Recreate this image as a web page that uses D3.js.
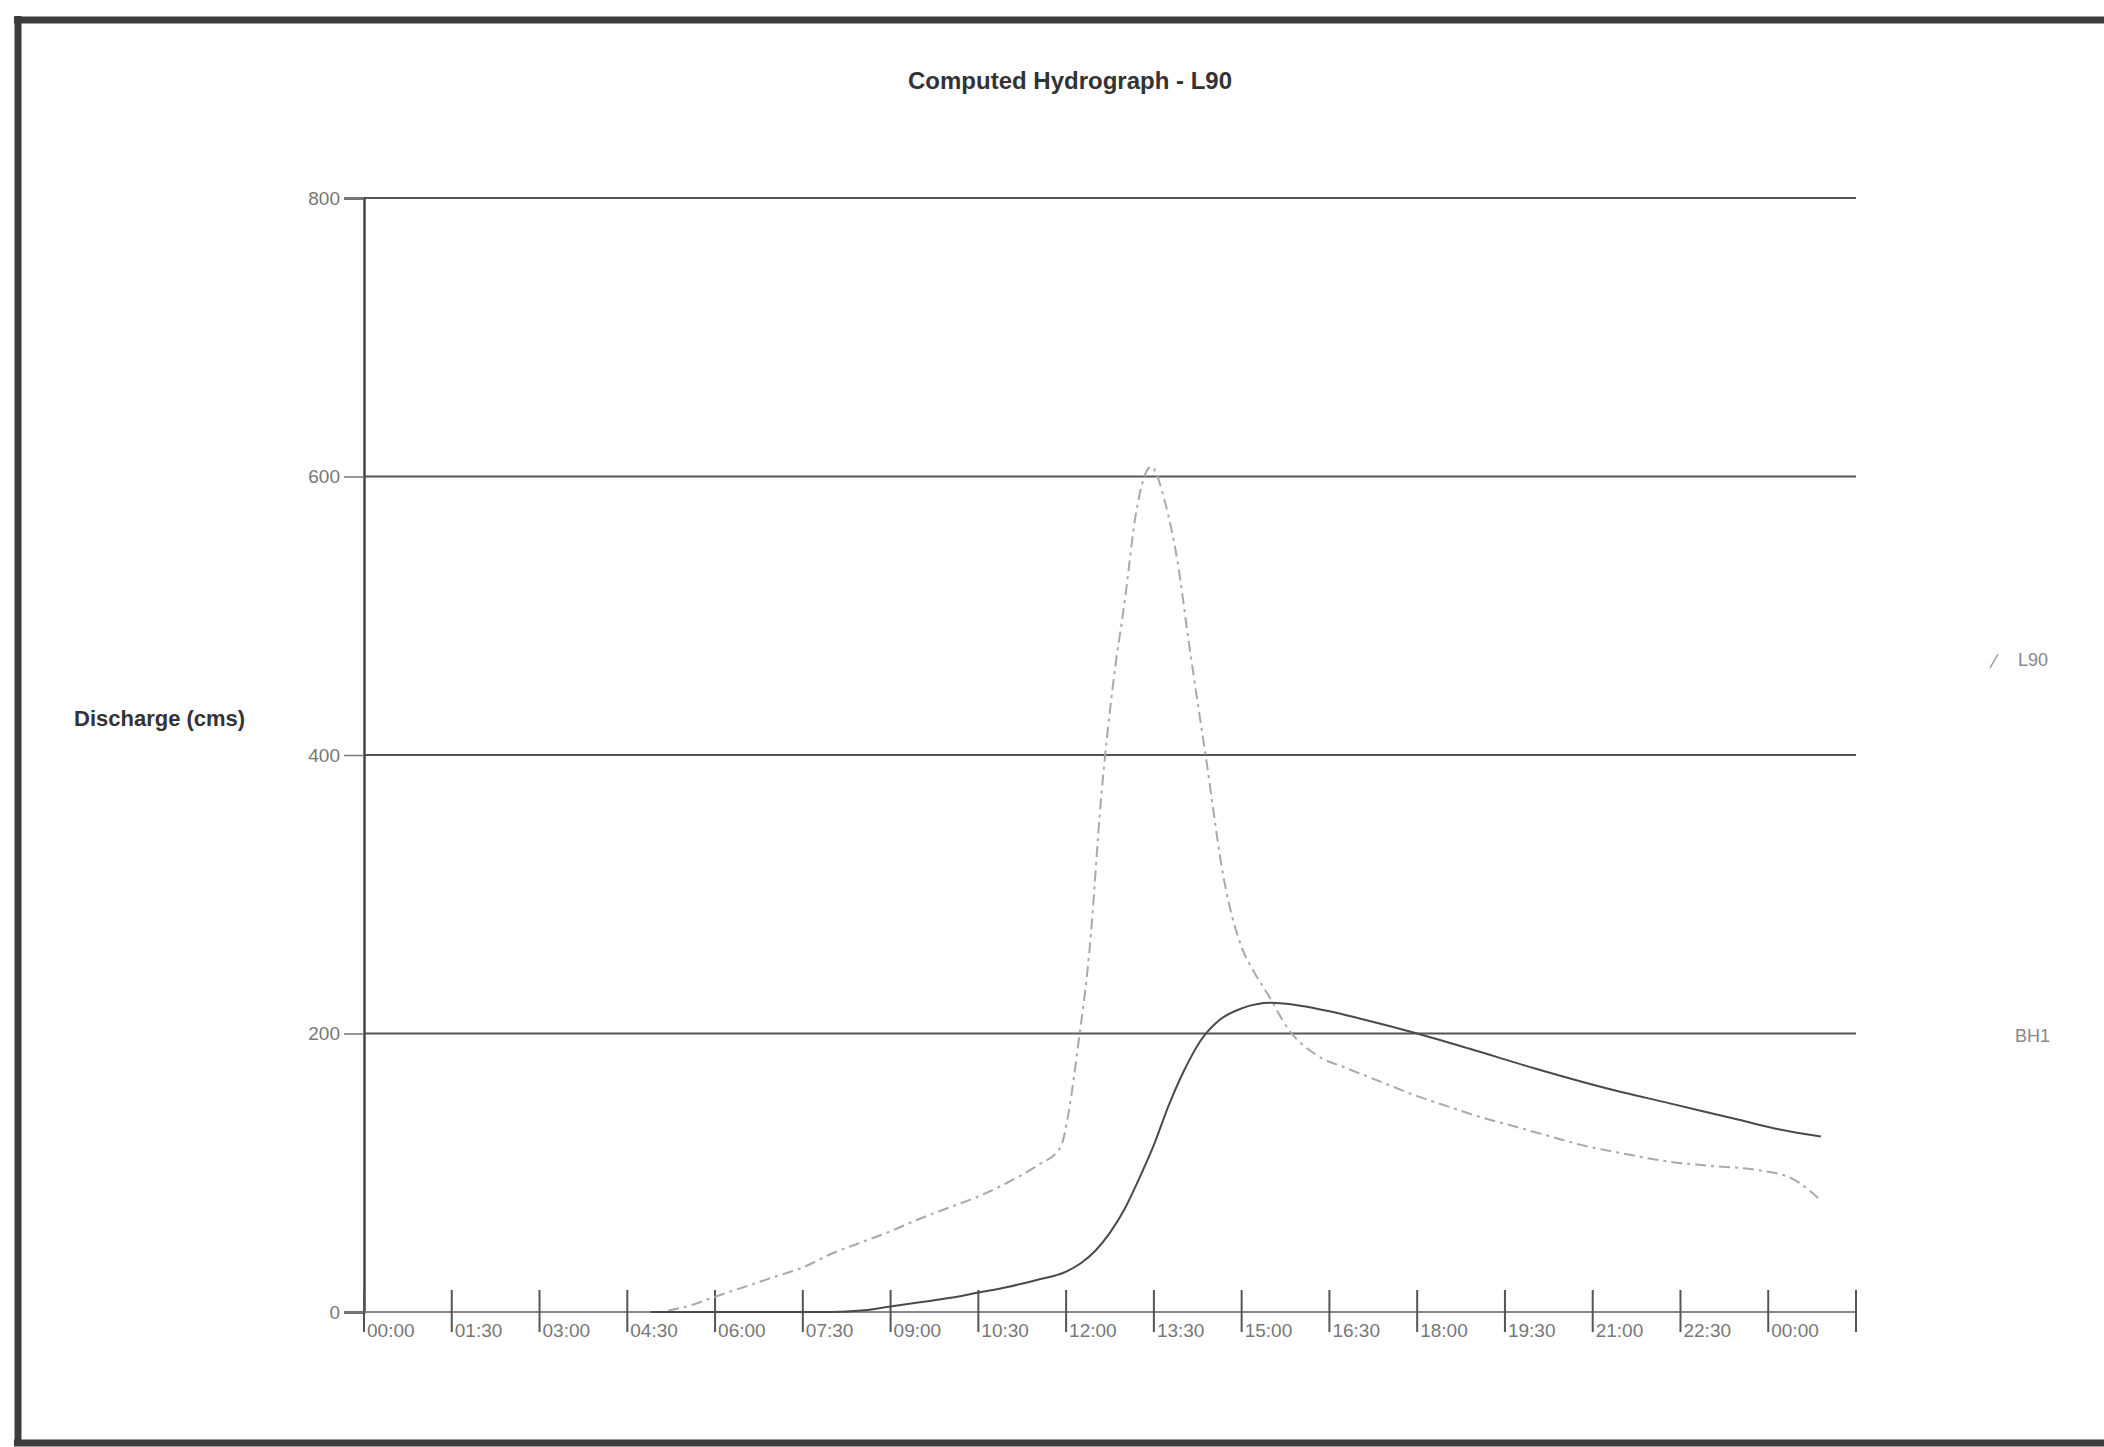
<!DOCTYPE html>
<html>
<head>
<meta charset="utf-8">
<script src="https://cdn.jsdelivr.net/npm/d3@7/dist/d3.min.js"></script>
<style>
  html, body { margin: 0; padding: 0; background: #ffffff; }
  svg { display: block; }
</style>
</head>
<body>
<svg id="chart" width="2104" height="1447"></svg>
<script>
// ---- data ----
const chartTitle = "Computed Hydrograph - L90";
const yAxisTitle = "Discharge (cms)";
const yTicks = [0, 200, 400, 600, 800];
const xTickHours = [0, 1.5, 3, 4.5, 6, 7.5, 9, 10.5, 12, 13.5, 15, 16.5, 18, 19.5, 21, 22.5, 24, 25.5];
const xTickLabels = ["00:00", "01:30", "03:00", "04:30", "06:00", "07:30", "09:00", "10:30", "12:00",
                     "13:30", "15:00", "16:30", "18:00", "19:30", "21:00", "22:30", "00:00", ""];
const seriesNames = ["L90", "BH1"];

const hoursL90 = [5.2, 5.6, 6.0, 6.5, 7.0, 7.5, 8.0, 8.5, 9.0, 9.5, 10.0, 10.5, 11.0, 11.5, 11.9,
                  12.05, 12.2, 12.4, 12.6, 12.8, 13.0, 13.2, 13.45, 13.7, 13.9, 14.1, 14.4, 14.7,
                  15.0, 15.2, 15.45, 15.8, 16.3, 16.8, 17.4, 18.0, 18.5, 19.0, 19.6, 20.2, 20.8,
                  21.5, 22.3, 23.0, 23.8, 24.4, 24.9];
const valuesL90 = [1, 5, 11, 18, 25, 32, 42, 50, 58, 67, 75, 83, 93, 105, 118,
                   145, 190, 260, 370, 450, 510, 575, 607, 580, 540, 480, 395, 310,
                   262, 245, 228, 203, 184, 175, 165, 155, 148, 141, 134, 127, 120,
                   114, 108, 105, 102, 96, 80];

const hoursBH1 = [4.9, 6.0, 7.0, 8.0, 8.5, 9.0, 9.5, 10.0, 10.5, 11.0, 11.5, 12.0, 12.25, 12.5,
                  12.75, 13.0, 13.25, 13.5, 13.75, 14.0, 14.3, 14.6, 15.0, 15.5, 16.0, 16.5,
                  17.0, 18.0, 18.9, 20.0, 21.2, 22.3, 23.5, 24.2, 24.9];
const valuesBH1 = [0, 0, 0, 0, 1, 4, 7, 10, 14, 18, 23, 29, 35, 44,
                   57, 74, 96, 120, 148, 172, 195, 209, 218, 222, 220, 216,
                   211, 200, 189, 175, 161, 150, 138, 131, 126];

// ---- layout ----
const svg = d3.select("#chart");
const x = d3.scaleLinear().domain([0, 25.5]).range([364, 1856]);
const y = d3.scaleLinear().domain([0, 800]).range([1312, 198]);

// outer frame
svg.append("rect").attr("x", 0).attr("y", 0).attr("width", 2104).attr("height", 1447).attr("fill", "#fff");
const frame = svg.append("g").attr("stroke", "#3c3c3c").attr("stroke-width", 7).attr("fill", "none");
frame.append("line").attr("x1", 14).attr("x2", 2104).attr("y1", 20).attr("y2", 20);
frame.append("line").attr("x1", 18).attr("x2", 18).attr("y1", 16).attr("y2", 1444);
frame.append("line").attr("x1", 14).attr("x2", 2104).attr("y1", 1443).attr("y2", 1443);

// title
svg.append("text").attr("x", 1070).attr("y", 83)
  .attr("text-anchor", "middle").attr("dominant-baseline", "middle")
  .attr("font-family", "Liberation Sans, Arial, sans-serif").attr("font-weight", "bold")
  .attr("font-size", 24).attr("fill", "#333").text(chartTitle);

// y-axis title
svg.append("text").attr("x", 74).attr("y", 720)
  .attr("dominant-baseline", "middle")
  .attr("font-family", "Liberation Sans, Arial, sans-serif").attr("font-weight", "bold")
  .attr("font-size", 22).attr("fill", "#333").text(yAxisTitle);

// gridlines
svg.append("g").selectAll("line").data(yTicks.filter(d => d > 0)).join("line")
  .attr("x1", x(0)).attr("x2", x(25.5))
  .attr("y1", d => y(d)).attr("y2", d => y(d))
  .attr("stroke", "#555").attr("stroke-width", 2);

// y axis
const yAxis = d3.axisLeft(y).tickValues(yTicks).tickSize(20).tickPadding(4).tickFormat(d3.format("d"));
const gy = svg.append("g").attr("transform", `translate(${x(0)},0)`).call(yAxis);
gy.select(".domain").attr("stroke", "#444").attr("stroke-width", 2.5);
gy.selectAll(".tick line").attr("stroke", "#777").attr("stroke-width", 1.5);
gy.selectAll(".tick text").attr("font-family", "Liberation Sans, Arial, sans-serif")
  .attr("font-size", 19).attr("fill", "#777");

// x axis
const gx = svg.append("g");
gx.append("line").attr("x1", x(0)).attr("x2", x(25.5)).attr("y1", y(0)).attr("y2", y(0))
  .attr("stroke", "#888").attr("stroke-width", 2);
const xt = gx.selectAll("g.xt").data(xTickHours).join("g").attr("class", "xt")
  .attr("transform", d => `translate(${x(d)},${y(0)})`);
xt.append("line").attr("x1", 0).attr("x2", 0).attr("y1", -22).attr("y2", 20)
  .attr("stroke", "#555").attr("stroke-width", 2);
xt.append("text").attr("x", 3).attr("y", 20).attr("dominant-baseline", "middle")
  .attr("font-family", "Liberation Sans, Arial, sans-serif").attr("font-size", 19)
  .attr("fill", "#777").text((d, i) => xTickLabels[i]);

// series
const line = d3.line().x(d => x(d[0])).y(d => y(d[1])).curve(d3.curveMonotoneX);
const l90 = hoursL90.map((h, i) => [h, valuesL90[i]]);
const bh1 = hoursBH1.map((h, i) => [h, valuesBH1[i]]);

svg.append("path").datum(l90).attr("d", line).attr("fill", "none")
  .attr("stroke", "#a9a9a9").attr("stroke-width", 2).attr("stroke-dasharray", "11,5,3,5");
svg.append("path").datum(bh1).attr("d", line).attr("fill", "none")
  .attr("stroke", "#4a4a4a").attr("stroke-width", 2);

// right-side series labels
svg.append("line").attr("x1", 1990).attr("x2", 1998).attr("y1", 668).attr("y2", 654)
  .attr("stroke", "#999").attr("stroke-width", 1.5);
svg.append("text").attr("x", 2048).attr("y", 661).attr("text-anchor", "end").attr("dominant-baseline", "middle")
  .attr("font-family", "Liberation Sans, Arial, sans-serif").attr("font-size", 18)
  .attr("fill", "#888").text(seriesNames[0]);
svg.append("text").attr("x", 2050).attr("y", 1037).attr("text-anchor", "end").attr("dominant-baseline", "middle")
  .attr("font-family", "Liberation Sans, Arial, sans-serif").attr("font-size", 18)
  .attr("fill", "#888").text(seriesNames[1]);
</script>
</body>
</html>
